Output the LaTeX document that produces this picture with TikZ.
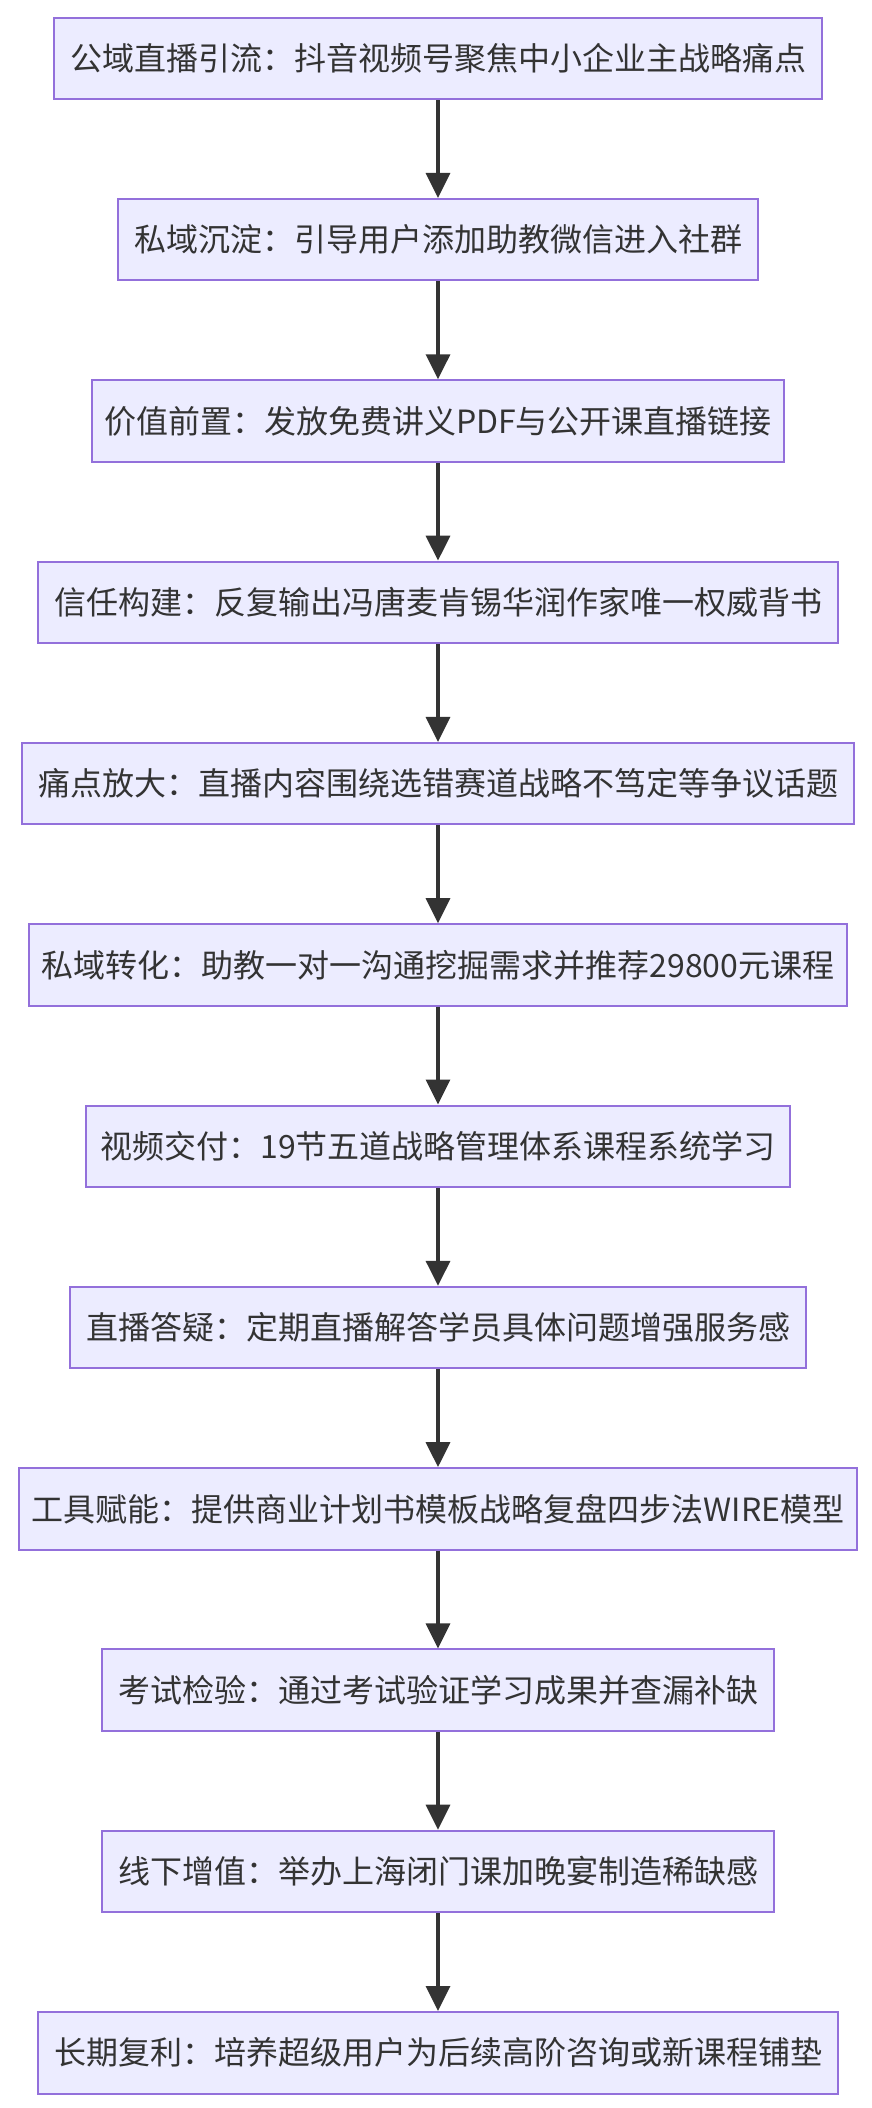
\documentclass[tikz,border=0pt]{standalone}
\usepackage{fontspec}
\setmainfont{Noto Sans CJK SC}
\usetikzlibrary{arrows.meta}
\definecolor{boxfill}{HTML}{ECECFF}
\definecolor{boxline}{HTML}{9370DB}
\definecolor{ink}{HTML}{333333}
\begin{document}
\begin{tikzpicture}[x=1pt,y=-1pt,
  stepbox/.style={draw=boxline,fill=boxfill,line width=2pt,minimum height=81.5pt,
    inner xsep=16pt,inner ysep=0pt,text=ink,font=\fontsize{32pt}{38pt}\selectfont},
  flow/.style={draw=ink,line width=3.5pt,-{Triangle[length=25pt,width=24pt]}}]
\useasboundingbox (0,0) rectangle (872,2108);
\node[stepbox] (n1) at (438,58.45) {公域直播引流：抖音视频号聚焦中小企业主战略痛点};
\node[stepbox] (n2) at (438,239.75) {私域沉淀：引导用户添加助教微信进入社群};
\node[stepbox,inner xsep=12.5pt] (n3) at (438,421.05) {价值前置：发放免费讲义PDF与公开课直播链接};
\node[stepbox] (n4) at (438,602.35) {信任构建：反复输出冯唐麦肯锡华润作家唯一权威背书};
\node[stepbox] (n5) at (438,783.65) {痛点放大：直播内容围绕选错赛道战略不笃定等争议话题};
\node[stepbox,inner xsep=12.5pt] (n6) at (438,964.95) {私域转化：助教一对一沟通挖掘需求并推荐29800元课程};
\node[stepbox,inner xsep=14pt] (n7) at (438,1146.25) {视频交付：19节五道战略管理体系课程系统学习};
\node[stepbox] (n8) at (438,1327.55) {直播答疑：定期直播解答学员具体问题增强服务感};
\node[stepbox,inner xsep=12.5pt] (n9) at (438,1508.85) {工具赋能：提供商业计划书模板战略复盘四步法WIRE模型};
\node[stepbox] (n10) at (438,1690.15) {考试检验：通过考试验证学习成果并查漏补缺};
\node[stepbox] (n11) at (438,1871.45) {线下增值：举办上海闭门课加晚宴制造稀缺感};
\node[stepbox] (n12) at (438,2052.75) {长期复利：培养超级用户为后续高阶咨询或新课程铺垫};
\foreach \a/\b in {n1/n2,n2/n3,n3/n4,n4/n5,n5/n6,n6/n7,n7/n8,n8/n9,n9/n10,n10/n11,n11/n12}
  \draw[flow] (\a.south) -- (\b.north);
\end{tikzpicture}
\end{document}
